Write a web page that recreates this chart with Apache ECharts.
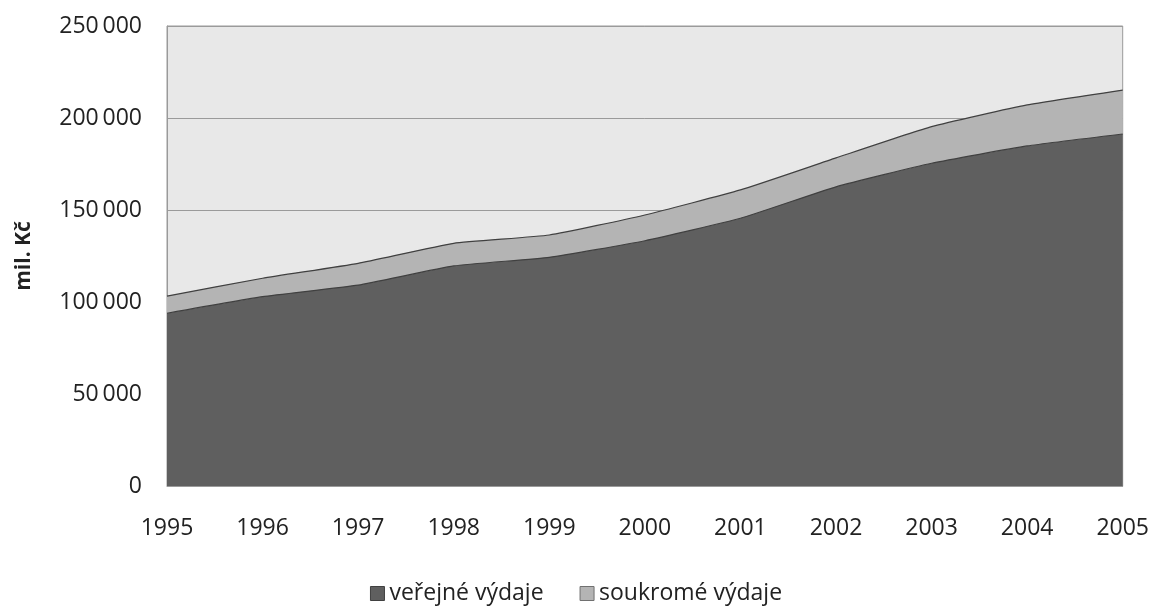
<!DOCTYPE html>
<html>
<head>
<meta charset="utf-8">
<script src="https://cdn.jsdelivr.net/npm/echarts@6/dist/echarts.min.js"></script>
<style>
  html, body { margin: 0; padding: 0; background: #ffffff; }
  #chart { width: 1152px; height: 607px; }
</style>
</head>
<body>
<div id="chart"></div>
<script>
// Výdaje na zdravotnictví (mil. Kč), 1995–2005
const years = ['1995', '1996', '1997', '1998', '1999', '2000', '2001', '2002', '2003', '2004', '2005'];
const verejneVydaje = [93900, 102900, 109200, 119600, 124300, 133300, 145500, 162600, 175400, 184800, 191300];
const soukromeVydaje = [9300, 10000, 11800, 12300, 12100, 14000, 15400, 15700, 19900, 22300, 23900];
const yTicks = { min: 0, max: 250000, interval: 50000 };

const FONT = '"Open Sans", "Noto Sans", sans-serif';

function fmtThousands(v) {
  return String(v).replace(/\B(?=(\d{3})+(?!\d))/g, '\u2009');
}

const chart = echarts.init(document.getElementById('chart'), null, { renderer: 'canvas' });

chart.setOption({
  backgroundColor: '#ffffff',
  animation: false,
  grid: {
    left: 167, right: 29, top: 26, bottom: 121,
    show: true,
    backgroundColor: '#e8e8e8',
    borderColor: '#9a9a9a',
    borderWidth: 1
  },
  legend: {
    bottom: -3,
    left: 'center',
    icon: 'rect',
    itemWidth: 14,
    itemHeight: 14,
    itemGap: 36,
    textStyle: { fontFamily: FONT, fontSize: 23, color: '#222' },
    data: [
      { name: 'veřejné výdaje', itemStyle: { color: '#5f5f5f', borderColor: '#404040', borderWidth: 1 } },
      { name: 'soukromé výdaje', itemStyle: { color: '#b4b4b4', borderColor: '#707070', borderWidth: 1 } }
    ]
  },
  xAxis: {
    type: 'category',
    data: years,
    boundaryGap: false,
    axisLine: { lineStyle: { color: '#9a9a9a' } },
    axisTick: { show: false },
    axisLabel: { fontFamily: FONT, fontSize: 23, color: '#222', margin: 31 },
    splitLine: { show: false }
  },
  yAxis: {
    type: 'value',
    min: yTicks.min,
    max: yTicks.max,
    interval: yTicks.interval,
    name: 'mil. Kč',
    nameLocation: 'middle',
    nameGap: 132,
    nameRotate: 90,
    nameTextStyle: { fontFamily: FONT, fontSize: 21, fontWeight: 'bold', color: '#222' },
    axisLine: { show: true, lineStyle: { color: '#9a9a9a' } },
    axisTick: { show: false },
    axisLabel: {
      fontFamily: FONT, fontSize: 23, color: '#222', margin: 25,
      formatter: fmtThousands
    },
    splitLine: { lineStyle: { color: '#9a9a9a', width: 1 } }
  },
  series: [
    {
      name: 'veřejné výdaje',
      type: 'line',
      stack: 'vydaje',
      data: verejneVydaje,
      smooth: 0.15,
      symbol: 'none',
      lineStyle: { color: '#404040', width: 1.2 },
      areaStyle: { color: '#5f5f5f', opacity: 1 },
      itemStyle: { color: '#5f5f5f' },
      z: 3
    },
    {
      name: 'soukromé výdaje',
      type: 'line',
      stack: 'vydaje',
      data: soukromeVydaje,
      smooth: 0.15,
      symbol: 'none',
      lineStyle: { color: '#404040', width: 1.2 },
      areaStyle: { color: '#b4b4b4', opacity: 1 },
      itemStyle: { color: '#b4b4b4' },
      z: 2
    }
  ]
});
</script>
</body>
</html>
